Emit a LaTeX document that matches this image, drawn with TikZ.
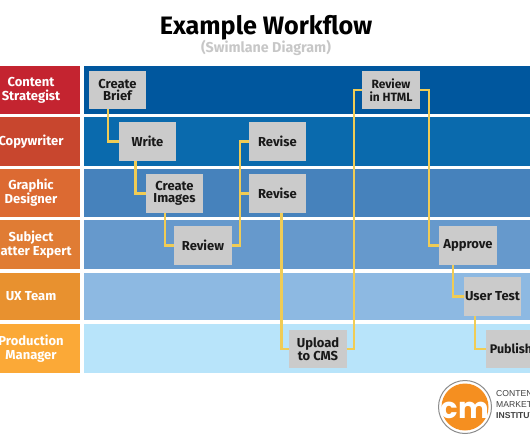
\documentclass[tikz,border=0pt]{standalone}
\usepackage{fontspec}
\setmainfont{Fira Sans}
\newfontfamily\logofont{Poppins}
\newfontfamily\instfont{Liberation Sans}
\usepackage{tikz}
\usepackage{xcolor}
\usetikzlibrary{calc}
\definecolor{roleA}{RGB}{196,36,48}
\definecolor{roleB}{RGB}{200,70,46}
\definecolor{roleC}{RGB}{220,106,50}
\definecolor{roleD}{RGB}{224,124,52}
\definecolor{roleE}{RGB}{232,145,47}
\definecolor{roleF}{RGB}{251,169,55}
\definecolor{bandA}{RGB}{0,87,158}
\definecolor{bandB}{RGB}{10,106,173}
\definecolor{bandC}{RGB}{70,130,188}
\definecolor{bandD}{RGB}{102,153,204}
\definecolor{bandE}{RGB}{141,185,226}
\definecolor{bandF}{RGB}{184,228,250}
\definecolor{stepgray}{RGB}{203,203,203}
\definecolor{flowline}{RGB}{240,204,85}
\definecolor{cmorange}{RGB}{245,143,32}
\tikzset{
  rolebox/.style={minimum width=98pt,inner sep=0pt,text=white,align=center,
                  font=\bfseries\fontsize{13}{14}\selectfont},
  bandbox/.style={minimum width=446pt,inner sep=0pt},
  stepbox/.style={fill=stepgray,minimum width=57.5pt,minimum height=38.5pt,inner sep=0pt,
                  align=center,text=black!90,font=\bfseries\fontsize{13}{12.5}\selectfont},
  flow/.style={draw=flowline,line width=2.2pt}
}

\begin{document}
\begin{tikzpicture}[x=1pt,y=-1pt]
\useasboundingbox (0,0) rectangle (530,442);
\clip (0,0) rectangle (530,442);

% ---------------- title ----------------
\node[font=\bfseries\fontsize{25.2}{28}\selectfont] (title) at (266,28) {Example Workflow};
\node[font=\bfseries\fontsize{14.3}{15}\selectfont,text=black!22] (subtitle) at (266,48) {(Swimlane Diagram)};

% ---------------- lanes ----------------
\foreach \n/\y/\h/\r/\b/\s in {
  a/90/48.5/roleA/bandA/{Content\\Strategist},
  b/141.5/49/roleB/bandB/Copywriter,
  c/193/48.5/roleC/bandC/{Graphic\\Designer},
  d/244.5/49/roleD/bandD/{Subject\\Matter Expert},
  e/296.5/47.5/roleE/bandE/UX Team,
  f/348.5/49/roleF/bandF/{Production\\Manager}}{
  \node[rolebox,fill=\r,minimum height=\h pt] (role\n) at (31,\y) {\s};
  \node[bandbox,fill=\b,minimum height=\h pt] (band\n) at (307,\y) {};
}

% ---------------- steps ----------------
\node[stepbox] (brief) at (117.5,90) {Create\\Brief};
\node[stepbox] (write) at (147.5,141.5) {Write};
\node[stepbox] (images) at (174.5,193.5) {Create\\Images};
\node[stepbox] (review) at (203,245.5) {Review};
\node[stepbox] (revisea) at (277.5,141.5) {Revise};
\node[stepbox] (reviseb) at (277.5,193.5) {Revise};
\node[stepbox] (upload) at (318,349) {Upload\\to CMS};
\node[stepbox,font=\bfseries\fontsize{12}{12.5}\selectfont] (html) at (391,90) {Review\\in HTML};
\node[stepbox] (approve) at (468,245.5) {Approve};
\node[stepbox] (usertest) at (492.5,296.5) {User Test};
\node[stepbox,minimum width=50pt,font=\bfseries\fontsize{12.5}{12.5}\selectfont] (publish) at (511,349) {Publish};

% ---------------- connectors ----------------
\draw[flow] ([xshift=-9.5pt]brief.south) |- (write.west);
\draw[flow] ([xshift=-12pt]write.south) |- (images.west);
\draw[flow] ([xshift=-9.5pt]images.south) |- (review.west);
\draw[flow] (review.east) -- ++(8,0) |- (revisea.west);
\draw[flow] (review.east) -- ++(8,0) |- (reviseb.west);
\draw[flow] ([xshift=4pt]reviseb.south) |- (upload.west);
\draw[flow] (upload.east) -- ++(7,0) |- (html.west);
\draw[flow] (html.east) -- ++(9,0) |- (approve.west);
\draw[flow] ([xshift=-15pt]approve.south) |- (usertest.west);
\draw[flow] ([xshift=-17.5pt]usertest.south) |- (publish.west);

% ---------------- logo ----------------
\node[circle,draw=black!45,line width=1pt,fill=white,minimum size=53pt,inner sep=0pt] (ring) at (465,407) {};
\node[circle,fill=cmorange,minimum size=47pt,inner sep=0pt] (disc) at (ring.center) {};
\node[text=white,font=\logofont\bfseries\fontsize{29}{29}\selectfont,inner sep=0pt] (cm) at ([yshift=-3pt]disc.center) {cm};
\node[anchor=west,inner sep=0pt,align=left,text=black!75,font=\instfont\fontsize{8.6}{11}\selectfont] (inst) at (496,405)
  {CONTENT\\MARKETING\\\textbf{INSTITUTE}};

\end{tikzpicture}
\end{document}
